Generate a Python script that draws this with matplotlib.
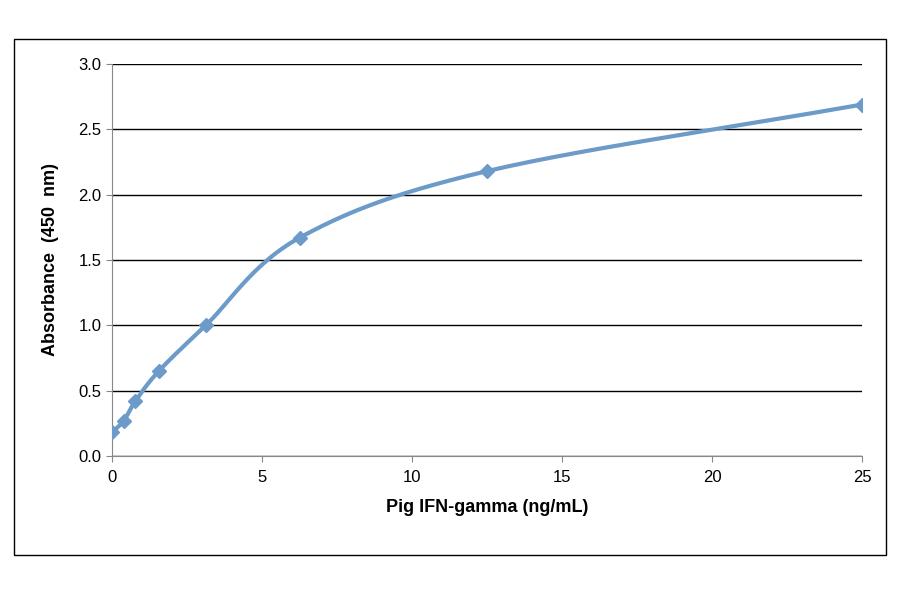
import matplotlib.pyplot as plt
import numpy as np
from matplotlib.patches import Rectangle

plt.rcParams['font.family'] = ['Liberation Sans', 'DejaVu Sans']

conc = [0, 0.39, 0.78, 1.56, 3.125, 6.25, 12.5, 25]
absorb = [0.18, 0.27, 0.42, 0.65, 1.0, 1.67, 2.18, 2.69]
yticks = [0.0, 0.5, 1.0, 1.5, 2.0, 2.5, 3.0]
xticks = [0, 5, 10, 15, 20, 25]


def smooth(x, y, n=30):
    # Catmull-Rom style smoothing, like spreadsheet "smoothed line"
    x = np.asarray(x, float)
    y = np.asarray(y, float)
    px = np.concatenate([[2 * x[0] - x[1]], x, [2 * x[-1] - x[-2]]])
    py = np.concatenate([[2 * y[0] - y[1]], y, [2 * y[-1] - y[-2]]])
    xs, ys = [], []
    t = np.linspace(0, 1, n)
    for i in range(1, len(px) - 2):
        p0, p1, p2, p3 = (np.array([px[j], py[j]]) for j in range(i - 1, i + 3))
        c1 = p1 + (p2 - p0) / 6
        c2 = p2 - (p3 - p1) / 6
        pts = ((1 - t) ** 3)[:, None] * p1 + (3 * (1 - t) ** 2 * t)[:, None] * c1 \
            + (3 * (1 - t) * t ** 2)[:, None] * c2 + (t ** 3)[:, None] * p2
        xs.extend(pts[:, 0])
        ys.extend(pts[:, 1])
    return xs, ys


fig = plt.figure(figsize=(9, 5.94), dpi=100)
fig.patches.append(Rectangle((14 / 900, 39 / 594), 872 / 900, 516 / 594, transform=fig.transFigure,
                             fill=False, edgecolor='black', linewidth=1))
ax = fig.add_axes([112 / 900, 138 / 594, 750 / 900, 392 / 594])

color = '#6C9BC9'
sx, sy = smooth(conc, absorb)
ax.plot(sx, sy, color=color, linewidth=3, zorder=3)
ax.plot(conc, absorb, linestyle='none', marker='D', markersize=7, color=color, zorder=4)

ax.set_xlim(0, 25)
ax.set_ylim(0, 3.0)
ax.set_xticks(xticks)
ax.set_yticks(yticks)
ax.set_yticklabels([f'{v:.1f}' for v in yticks])
ax.yaxis.grid(True, color='black', linewidth=1)
ax.set_axisbelow(True)
for s in ['top', 'right']:
    ax.spines[s].set_visible(False)
ax.spines['left'].set_color('#888888')
ax.spines['bottom'].set_color('#888888')
ax.tick_params(labelsize=12, color='#888888', length=4)
ax.tick_params(axis='x', pad=6)
ax.set_xlabel('Pig IFN-gamma (ng/mL)', fontsize=13, fontweight='bold', labelpad=10)
ax.set_ylabel('Absorbance  (450  nm)', fontsize=13, fontweight='bold', labelpad=14)

fig.savefig('out.png', dpi=100)
